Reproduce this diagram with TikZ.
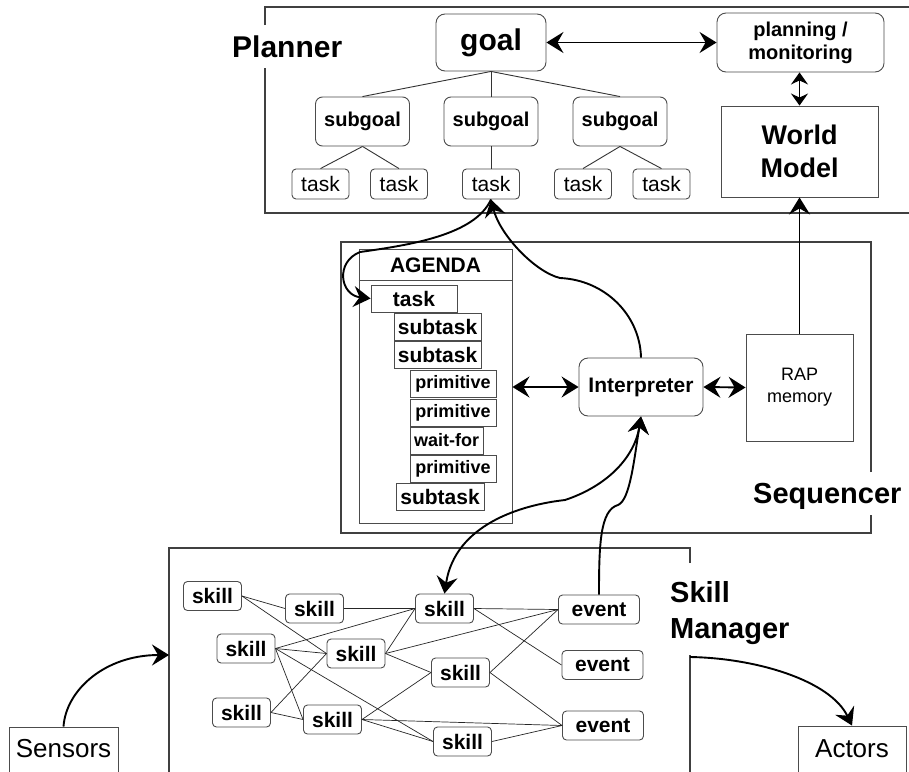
\documentclass[tikz,border=0pt]{standalone}
\usepackage{fontspec}
\setmainfont{Liberation Sans}
\usetikzlibrary{arrows.meta}
\newcommand\fsz[2]{\fontsize{#1}{#2}\selectfont}
\tikzset{bigtip/.tip={Stealth[length=17pt,width=21pt,inset=6pt]},
         smalltip/.tip={Stealth[length=12pt,width=17pt,inset=4pt]}}
\begin{document}
\begin{tikzpicture}[x=1pt,y=-1pt,
  frame/.style={draw=black!75,line width=1.1pt},
  sbox/.style={draw=black!70,line width=0.9pt,inner sep=0pt,align=center,fill=white},
  rbox/.style={sbox,rounded corners=5pt},
  goalbox/.style={rbox,rounded corners=9pt,font=\bfseries\fsz{30}{34}},
  subgoalbox/.style={rbox,rounded corners=7pt,minimum width=94,minimum height=49,font=\bfseries\fsz{20}{24}},
  ptask/.style={rbox,rounded corners=4pt,minimum width=57,minimum height=30,font=\fsz{21}{24}},
  item/.style={sbox,minimum height=27,font=\bfseries\fsz{21}{24}},
  prim/.style={sbox,minimum height=27,minimum width=86,font=\bfseries\fsz{18}{22}},
  skillbox/.style={rbox,rounded corners=4pt,minimum width=58,minimum height=29,font=\bfseries\fsz{21}{24}},
  eventbox/.style={skillbox,minimum width=81},
  title/.style={anchor=base west,inner sep=0pt,font=\bfseries\fsz{30}{34}},
  tree/.style={draw=black!80,line width=0.9pt},
  link/.style={draw=black!85,line width=0.7pt},
  flow/.style={draw=black,line width=1.9pt},
  oneway/.style={flow,-{bigtip}},
  twoway/.style={flow,{bigtip}-{bigtip}},
  shortway/.style={flow,{smalltip}-{smalltip}}
]
\useasboundingbox (0,0) rectangle (909,771);
\fill[white] (0,0) rectangle (909,771);

% ---------------- frames of the three layers ----------------
\draw[frame] (265,25) -- (265,7) -- (925,7);
\draw[frame] (265,68) -- (265,213) -- (925,213);
\draw[frame] (871,472) -- (871,242) -- (341,242) -- (341,533) -- (871,533) -- (871,515);
\draw[frame] (690,563) -- (690,548) -- (169,548) -- (169,790);
\draw[frame] (690,655) -- (690,790);

\node[title] (plannerlbl) at (232,57) {Planner};
\node[title,font=\bfseries\fsz{29}{34}] (seqlbl) at (753,503) {Sequencer};
\node[title,font=\bfseries\fsz{29}{34}] (smlbla) at (670,602) {Skill};
\node[title,font=\bfseries\fsz{29}{34}] (smlblb) at (670,638) {Manager};

% ---------------- planner ----------------
\node[goalbox,minimum width=110,minimum height=57] (goal) at (491,42.5) {goal};
\node[rbox,rounded corners=9pt,minimum width=167,minimum height=59,font=\bfseries\fsz{20}{23}] (plan) at (800.5,42.5) {planning /\\monitoring};
\node[sbox,minimum width=157,minimum height=91,font=\bfseries\fsz{27}{33}] (wm) at (799.5,151.5) {World\\Model};

\node[subgoalbox] (sga) at (362.5,121.5) {subgoal};
\node[subgoalbox] (sgb) at (491,121.5) {subgoal};
\node[subgoalbox] (sgc) at (620,121.5) {subgoal};

\node[ptask] (ta) at (320.5,184) {task};
\node[ptask] (tb) at (399,184) {task};
\node[ptask] (tc) at (491,184) {task};
\node[ptask] (td) at (583,184) {task};
\node[ptask] (te) at (661.5,184) {task};

\draw[tree] (goal.south) -- (sga.north);
\draw[tree] (goal.south) -- (sgb.north);
\draw[tree] (goal.south) -- (sgc.north);
\draw[tree] (sga.south) -- (ta.north);
\draw[tree] (sga.south) -- (tb.north);
\draw[tree] (sgb.south) -- (tc.north);
\draw[tree] (sgc.south) -- (td.north);
\draw[tree] (sgc.south) -- (te.north);

\draw[twoway] (goal.east) -- (plan.west);
\draw[shortway] (wm.north |- plan.south) -- (wm.north);

% ---------------- sequencer ----------------
\node[sbox,fill=none,minimum width=153,minimum height=274] (agenda) at (435.5,386) {};
\draw[draw=black!70,line width=0.9pt] ([yshift=-32pt]agenda.north west) -- ([yshift=-32pt]agenda.north east);
\node[font=\bfseries\fsz{21}{24}] (agendattl) at (435.5,265.5) {AGENDA};

\node[item,minimum width=86] (atask) at (414,298.5) {task};
\node[item,minimum width=87] (sta) at (437.5,327) {subtask};
\node[item,minimum width=87] (stb) at (437.5,355) {subtask};
\node[prim] (pa) at (453,383.5) {primitive};
\node[prim] (pb) at (453,412.5) {primitive};
\node[prim,minimum width=73] (wf) at (446.5,440.5) {wait-for};
\node[prim] (pc) at (453,469) {primitive};
\node[item,minimum width=88] (stc) at (440,497) {subtask};

\node[rbox,rounded corners=9pt,minimum width=124,minimum height=58,font=\bfseries\fsz{21}{24}] (interp) at (641,387) {Interpreter};
\node[sbox,minimum width=107,minimum height=107,font=\fsz{18}{22}] (rap) at (799.5,387.5) {RAP\\memory};

\draw[twoway] (agenda.east |- interp.west) -- (interp.west);
\draw[twoway] (interp.east) -- (rap.west);
\draw[oneway] (rap.north) -- (wm.south);

% interpreter up to the planner task, planner task down to the agenda
\draw[oneway] (interp.north) .. controls (640,315) and (605,280) .. (560,278)
  .. controls (535,272) and (500,235) .. (tc.south);
\draw[oneway] (tc.south) .. controls (475,235) and (410,245) .. (360,252)
  .. controls (335,262) and (340,295) .. (atask.west);

% ---------------- skill manager ----------------
\node[skillbox] (sa) at (212.5,596) {skill};
\node[skillbox] (sb) at (314.5,608.5) {skill};
\node[skillbox] (sc) at (444.5,608.5) {skill};
\node[eventbox] (ea) at (599,609.5) {event};
\node[skillbox] (sd) at (246,648.5) {skill};
\node[skillbox] (se) at (356,653.5) {skill};
\node[skillbox] (sf) at (460.5,672.5) {skill};
\node[eventbox] (eb) at (602.5,665) {event};
\node[skillbox] (sg) at (241.5,712.5) {skill};
\node[skillbox] (sh) at (332.5,719.5) {skill};
\node[skillbox] (si) at (462.5,741.5) {skill};
\node[eventbox] (ec) at (603,725.5) {event};

\draw[link] (sa.east) -- (sb.west);
\draw[link] (sa.east) -- (se.west);
\draw[link] (sb.east) -- (sc.west);
\draw[link] (sd.east) -- (sc.west);
\draw[link] (se.east) -- (sc.west);
\draw[link] (sc.east) -- (ea.west);
\draw[link] (sc.east) -- (eb.west);
\draw[link] (sd.east) -- (se.west);
\draw[link] (sd.east) -- (sh.west);
\draw[link] (sd.east) -- (si.west);
\draw[link] (se.east) -- (ea.west);
\draw[link] (se.east) -- (sf.west);
\draw[link] (sg.east) -- (se.west);
\draw[link] (sf.east) -- (ea.west);
\draw[link] (sf.east) -- (ec.west);
\draw[link] (sg.east) -- (sh.west);
\draw[link] (sh.east) -- (sf.west);
\draw[link] (sh.east) -- (ec.west);
\draw[link] (sh.east) -- (si.west);
\draw[link] (si.east) -- (ec.west);

% interpreter <-> skill, event -> interpreter
\draw[twoway] (sc.north) .. controls (455,525) and (520,505) .. (565,500)
  .. controls (610,485) and (635,455) .. (interp.south);
\draw[oneway] (ea.north) .. controls (599,545) and (600,510) .. (618,505)
  .. controls (630,500) and (634,460) .. (interp.south);

% ---------------- sensors and actors ----------------
\node[sbox,anchor=base,minimum width=109,text height=30pt,text depth=30pt,font=\fsz{26}{30}] (sensors) at (63.5,757) {Sensors};
\node[sbox,anchor=base,minimum width=108,text height=31pt,text depth=30pt,font=\fsz{26}{30}] (actors) at (852,757) {Actors};

\coordinate (smin) at (169,655);
\coordinate (smout) at (690,657);
\draw[oneway] (sensors.north) .. controls (66,690) and (105,655) .. (smin);
\draw[oneway] (smout) .. controls (755,658) and (830,680) .. (actors.north);

\end{tikzpicture}
\end{document}
